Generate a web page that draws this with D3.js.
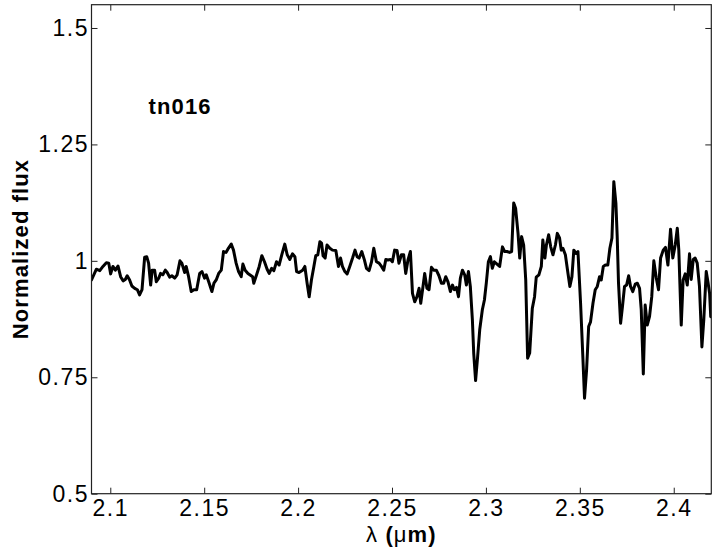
<!DOCTYPE html>
<html>
<head>
<meta charset="utf-8">
<script src="https://cdn.jsdelivr.net/npm/d3@7"></script>
<style>
  html, body { margin: 0; padding: 0; background: #fff; }
  svg { display: block; font-family: "Liberation Sans", Arial, Helvetica, sans-serif; }
</style>
</head>
<body>
<svg id="chart" width="717" height="557"></svg>
<script>
// ---- data ----
const wavelength = [
2.0900,2.0926,2.0944,2.0961,2.0979,2.0992,2.1002,2.1014,2.1027,2.1041,
2.1055,2.1068,2.1080,2.1090,2.1103,2.1115,2.1130,2.1144,2.1156,2.1169,
2.1183,2.1194,2.1204,2.1215,2.1223,2.1236,2.1245,2.1258,2.1268,2.1280,
2.1293,2.1303,2.1316,2.1328,2.1343,2.1356,2.1371,2.1381,2.1396,2.1404,
2.1417,2.1431,2.1445,2.1460,2.1476,2.1488,2.1502,2.1511,2.1524,2.1541,
2.1552,2.1564,2.1577,2.1591,2.1603,2.1616,2.1626,2.1644,2.1656,2.1670,
2.1683,2.1697,2.1706,2.1718,2.1733,2.1758,2.1764,2.1779,2.1793,2.1807,
2.1821,2.1835,2.1846,2.1859,2.1871,2.1885,2.1899,2.1913,2.1929,2.1942,
2.1956,2.1970,2.1983,2.1992,2.2005,2.2024,2.2036,2.2048,2.2059,2.2071,
2.2084,2.2094,2.2105,2.2116,2.2125,2.2133,2.2144,2.2154,2.2169,2.2183,
2.2201,2.2215,2.2226,2.2236,2.2249,2.2261,2.2275,2.2290,2.2303,2.2314,
2.2325,2.2339,2.2353,2.2364,2.2378,2.2391,2.2403,2.2417,2.2431,2.2444,
2.2456,2.2467,2.2479,2.2492,2.2502,2.2514,2.2527,2.2537,2.2550,2.2562,
2.2573,2.2585,2.2598,2.2609,2.2621,2.2633,2.2644,2.2653,2.2665,2.2674,
2.2686,2.2697,2.2710,2.2722,2.2736,2.2750,2.2763,2.2775,2.2786,2.2798,
2.2811,2.2822,2.2832,2.2843,2.2854,2.2864,2.2875,2.2887,2.2896,2.2907,
2.2917,2.2928,2.2935,2.2945,2.2956,2.2967,2.2981,2.2992,2.3002,2.3013,
2.3024,2.3034,2.3045,2.3059,2.3073,2.3088,2.3100,2.3112,2.3126,2.3137,
2.3148,2.3158,2.3171,2.3180,2.3190,2.3201,2.3212,2.3222,2.3233,2.3247,
2.3259,2.3268,2.3282,2.3295,2.3303,2.3314,2.3322,2.3334,2.3345,2.3357,
2.3370,2.3380,2.3392,2.3401,2.3410,2.3423,2.3437,2.3447,2.3458,2.3468,
2.3479,2.3490,2.3504,2.3516,2.3525,2.3536,2.3547,2.3557,2.3570,2.3582,
2.3593,2.3605,2.3614,2.3625,2.3636,2.3649,2.3660,2.3671,2.3681,2.3692,
2.3699,2.3706,2.3717,2.3727,2.3738,2.3749,2.3760,2.3770,2.3782,2.3795,
2.3806,2.3818,2.3827,2.3838,2.3848,2.3859,2.3871,2.3883,2.3894,2.3907,
2.3919,2.3930,2.3944,2.3956,2.3969,2.3983,2.3995,2.4008,2.4019,2.4027,
2.4040,2.4050,2.4061,2.4072,2.4084,2.4093,2.4104,2.4114,2.4125,2.4137,
2.4150,2.4160,2.4173,2.4182,2.4191,2.4197
];
const flux = [
0.959,0.982,0.979,0.988,0.996,0.995,0.972,0.988,0.980,0.989,
0.966,0.957,0.960,0.968,0.959,0.946,0.941,0.938,0.927,0.938,
1.008,1.009,0.995,0.948,0.980,0.980,0.955,0.963,0.973,0.970,
0.980,0.975,0.965,0.968,0.963,0.970,1.000,0.995,0.975,0.988,
0.966,0.934,0.938,0.938,0.973,0.977,0.963,0.970,0.955,0.934,
0.952,0.959,0.973,0.980,1.020,1.018,1.025,1.036,1.023,0.995,
0.977,0.966,0.993,0.980,0.973,0.966,0.952,0.970,0.988,1.011,
0.998,0.982,0.973,0.984,0.979,0.998,0.991,1.013,1.036,1.013,
1.003,1.015,1.009,0.977,0.975,0.980,0.988,0.952,0.923,0.959,
0.988,1.011,1.013,1.041,1.038,1.011,1.006,1.034,1.027,1.023,
1.022,0.988,1.006,0.988,0.977,0.972,0.988,1.006,1.023,1.009,
1.006,1.020,1.002,0.984,0.979,0.998,1.027,0.998,0.995,0.988,
0.980,1.003,1.002,1.003,0.998,1.023,1.022,0.995,1.013,1.013,
0.973,1.002,1.020,0.930,0.912,0.923,0.941,0.909,0.945,0.973,
0.941,0.938,0.986,0.980,0.980,0.968,0.952,0.952,0.966,0.955,
0.934,0.948,0.938,0.943,0.923,0.963,0.980,0.970,0.948,0.977,
0.945,0.873,0.802,0.743,0.795,0.852,0.895,0.916,0.952,0.998,
1.009,0.984,0.998,0.993,0.988,1.030,1.020,1.020,1.018,1.020,
1.124,1.113,1.059,1.006,1.052,1.034,0.959,0.791,0.802,0.898,
0.923,0.965,0.970,0.988,1.045,1.006,1.034,1.056,1.030,1.013,
1.034,1.059,1.049,1.023,1.027,1.013,0.973,0.945,0.966,1.023,
1.016,1.020,0.909,0.795,0.705,0.766,0.859,0.869,0.909,0.938,
0.945,0.966,0.959,0.988,0.991,0.991,1.027,1.049,1.170,1.124,
1.052,0.952,0.866,0.902,0.945,0.948,0.968,0.945,0.934,0.950,
0.952,0.941,0.895,0.757,0.905,0.862,0.880,0.923,1.000,0.963,
0.938,1.006,1.023,1.029,0.991,1.068,1.006,1.034,1.070,1.023,
0.862,0.959,0.972,0.948,1.015,0.960,1.003,1.006,0.995,0.945,
0.815,0.873,0.977,0.955,0.930,0.880
];
const xTicks = [2.1, 2.15, 2.2, 2.25, 2.3, 2.35, 2.4];
const yTicks = [0.5, 0.75, 1, 1.25, 1.5];
const xDomain = [2.09, 2.42];
const yDomain = [0.5, 1.55];
const title = "tn016";
const yTitle = "Normalized flux";

// ---- layout ----
const svg = d3.select("#chart");
const L = 91.5, R = 711.3, T = 4.7, B = 493.7;
const x = d3.scaleLinear().domain(xDomain).range([L, R]);
const y = d3.scaleLinear().domain(yDomain).range([B, T]);
const tickFont = "23px";
const tickLs = "1.5px";
const ls = "1.1px";

svg.append("defs").append("clipPath").attr("id", "clip")
  .append("rect").attr("x", L).attr("y", T).attr("width", R - L).attr("height", B - T);

// spectrum
const pts = wavelength.map((w, i) => [w, flux[i]]);
svg.append("path")
  .datum(pts)
  .attr("clip-path", "url(#clip)")
  .attr("fill", "none")
  .attr("stroke", "#000")
  .attr("stroke-width", 3)
  .attr("stroke-linejoin", "round")
  .attr("stroke-linecap", "round")
  .attr("d", d3.line().x(d => x(d[0])).y(d => y(d[1])));

function styleAxis(g, showText) {
  g.select(".domain").remove();
  g.selectAll(".tick line").attr("stroke", "#222").attr("stroke-width", 1);
  g.selectAll(".tick text")
    .attr("fill", "#000")
    .style("font-size", tickFont)
    .style("letter-spacing", tickLs)
    .style("font-family", '"Liberation Sans", Arial, sans-serif');
  if (!showText) g.selectAll(".tick text").remove();
}

// bottom axis
svg.append("g").attr("transform", `translate(0,${B})`)
  .call(d3.axisBottom(x).tickValues(xTicks).tickSize(-6).tickPadding(6).tickFormat(d3.format("")))
  .call(g => styleAxis(g, true));
// top axis (ticks only)
svg.append("g").attr("transform", `translate(0,${T})`)
  .call(d3.axisTop(x).tickValues(xTicks).tickSize(-6))
  .call(g => styleAxis(g, false));
// left axis
svg.append("g").attr("transform", `translate(${L},0)`)
  .call(d3.axisLeft(y).tickValues(yTicks).tickSize(-6).tickPadding(2.5).tickFormat(d3.format("")))
  .call(g => styleAxis(g, true));
// right axis (ticks only)
svg.append("g").attr("transform", `translate(${R},0)`)
  .call(d3.axisRight(y).tickValues(yTicks).tickSize(-6))
  .call(g => styleAxis(g, false));

// frame
svg.append("rect")
  .attr("x", L).attr("y", T).attr("width", R - L).attr("height", B - T)
  .attr("fill", "none").attr("stroke", "#222").attr("stroke-width", 1.2);

// annotation
svg.append("text")
  .attr("x", x(2.1204)).attr("y", y(1.3147))
  .style("font-size", "22px").style("font-weight", "bold").style("letter-spacing", ls)
  .text(title);

// y label
svg.append("text")
  .attr("transform", `translate(28,249) rotate(-90)`)
  .attr("text-anchor", "middle")
  .style("font-size", "22px").style("font-weight", "bold").style("letter-spacing", ls)
  .text(yTitle);

// x label
const xl = svg.append("text")
  .attr("x", (L + R) / 2).attr("y", 541.5)
  .attr("text-anchor", "middle")
  .style("font-size", "22px").style("letter-spacing", ls);
xl.append("tspan").text("\u03bb");
xl.append("tspan").style("font-weight", "bold").text(" (");
xl.append("tspan").text("\u03bc");
xl.append("tspan").style("font-weight", "bold").text("m)");
</script>
</body>
</html>
